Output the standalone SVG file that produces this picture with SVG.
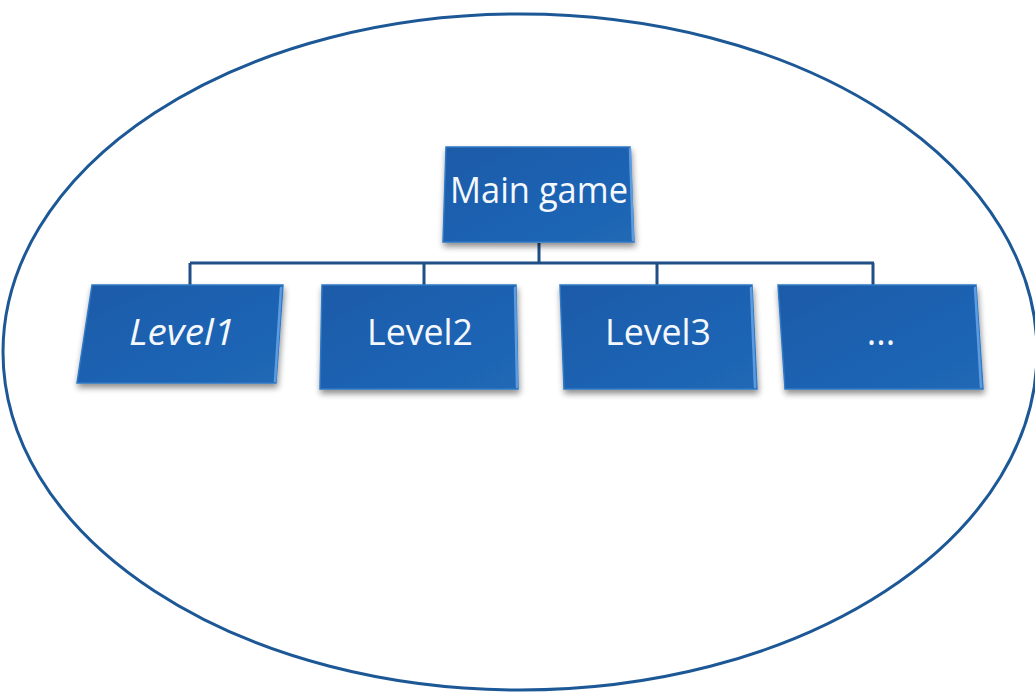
<svg xmlns="http://www.w3.org/2000/svg" width="1035" height="694" viewBox="0 0 1035 694">
<defs>
<linearGradient id="boxg" x1="0" y1="0" x2="1" y2="1">
<stop offset="0" stop-color="#1b5aa8"/>
<stop offset="0.6" stop-color="#1e63b3"/>
<stop offset="1" stop-color="#2068b5"/>
</linearGradient>
<filter id="sh" x="-10%" y="-10%" width="125%" height="130%">
<feGaussianBlur in="SourceAlpha" stdDeviation="3"/>
<feOffset dx="1" dy="4" result="b"/>
<feComponentTransfer><feFuncA type="linear" slope="0.45"/></feComponentTransfer>
<feMerge><feMergeNode/><feMergeNode in="SourceGraphic"/></feMerge>
</filter>
<style>
.box{fill:url(#boxg);stroke:#2f78c4;stroke-width:1.5;filter:url(#sh)}
.bevel{fill:none;stroke:#5d9be0;stroke-width:2.5;stroke-linecap:round}
.lbl{font-family:"Open Sans","Liberation Sans",sans-serif;font-size:36px;fill:#f4f8fc;text-anchor:middle}
.conn{fill:none;stroke:#1f4f86;stroke-width:3}
</style>
</defs>
<rect width="1035" height="694" fill="#ffffff"/>
<ellipse cx="520" cy="352" rx="517" ry="338" fill="none" stroke="#1d5896" stroke-width="3"/>
<g id="connectors">
<path class="conn" d="M539,243 V263 M190,263 H874 M190,263 V286 M424,263 V286 M657,263 V286 M873,263 V286"/>
</g>
<g id="main">
<polygon class="box" points="446,147 630,147 634,242 443,242"/>
<path class="bevel" d="M630,149 L633,240"/>
<text class="lbl" x="539" y="203" textLength="178" lengthAdjust="spacingAndGlyphs">Main game</text>
</g>
<g id="level1">
<polygon class="box" points="92,285 283,285 276,383 77,383"/>
<path class="bevel" d="M281,288 L275,381"/>
<text class="lbl" x="182" y="345" font-style="italic" textLength="106" lengthAdjust="spacingAndGlyphs">Level1</text>
</g>
<g id="level2">
<polygon class="box" points="322,285 516,285 518,389 320,389"/>
<path class="bevel" d="M515,288 L517,387"/>
<text class="lbl" x="420" y="345" textLength="106" lengthAdjust="spacingAndGlyphs">Level2</text>
</g>
<g id="level3">
<polygon class="box" points="560,285 752,285 757,389 564,389"/>
<path class="bevel" d="M751,288 L755,387"/>
<text class="lbl" x="658" y="345" textLength="106" lengthAdjust="spacingAndGlyphs">Level3</text>
</g>
<g id="more">
<polygon class="box" points="778,285 976,285 983,389 785,389"/>
<path class="bevel" d="M975,288 L981,387"/>
<text class="lbl" x="881" y="345">...</text>
</g>
</svg>
